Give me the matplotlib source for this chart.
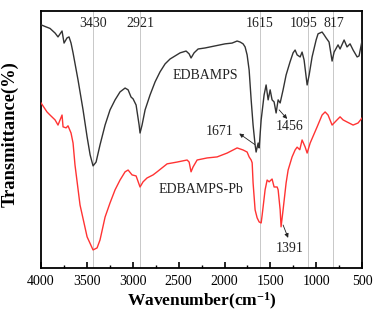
import matplotlib
matplotlib.use("Agg")
import matplotlib.pyplot as plt
from matplotlib.ticker import MultipleLocator

# ---- data ----
w_black = [4000, 3945, 3902, 3847, 3815, 3771, 3749, 3717, 3695, 3673, 3651, 3597, 3542, 3498,
           3465, 3433, 3400, 3357, 3302, 3248, 3193, 3139, 3084, 3051, 3019, 2997, 2964, 2931,
           2921, 2899, 2866, 2812, 2757, 2703, 2648, 2594, 2539, 2484, 2419, 2386, 2365, 2332,
           2288, 2212, 2103, 1994, 1918, 1863, 1830, 1798, 1776, 1754, 1732, 1710, 1689, 1667,
           1656, 1634, 1623, 1601, 1569, 1547, 1525, 1503, 1482, 1460, 1438, 1416, 1394, 1362,
           1329, 1286, 1253, 1231, 1209, 1176, 1155, 1133, 1100, 1078, 1046, 1002, 981, 937,
           915, 893, 861, 828, 806, 763, 741, 697, 665, 632, 599, 555, 534, 500]
t_black = [94.6, 93.8, 93.2, 91.4, 89.9, 92.2, 87.5, 89.5, 89.9, 87.5, 83.7, 73.2, 61.5, 51.0,
           44.0, 39.7, 41.2, 47.9, 55.6, 61.5, 65.4, 68.5, 70.0, 69.3, 66.5, 65.8, 63.4, 55.6,
           52.5, 55.6, 61.5, 67.3, 72.4, 76.3, 79.4, 81.3, 82.5, 83.7, 84.4, 83.3, 81.7, 83.7,
           85.2, 85.6, 86.4, 87.2, 87.5, 88.3, 87.9, 87.2, 86.0, 82.9, 77.0, 65.4, 55.6, 47.9,
           45.1, 48.6, 46.7, 57.6, 67.3, 71.2, 65.4, 69.3, 65.4, 64.6, 60.3, 65.4, 64.2, 69.3,
           75.1, 80.2, 83.7, 84.8, 82.9, 82.1, 84.0, 80.9, 71.2, 75.1, 82.1, 88.7, 91.1, 91.8,
           90.7, 89.5, 87.9, 80.5, 84.0, 86.8, 85.2, 88.7, 86.0, 87.2, 84.8, 82.1, 82.5, 88.7]

w_red = [4000, 3935, 3902, 3847, 3815, 3771, 3760, 3727, 3706, 3673, 3651, 3630, 3575, 3498,
         3433, 3389, 3357, 3302, 3248, 3193, 3139, 3084, 3051, 3008, 2964, 2921, 2888, 2845,
         2779, 2735, 2626, 2517, 2408, 2386, 2365, 2343, 2299, 2190, 2081, 1972, 1863, 1798,
         1754, 1732, 1710, 1699, 1689, 1667, 1645, 1623, 1601, 1590, 1558, 1536, 1514, 1482,
         1460, 1427, 1416, 1394, 1384, 1362, 1329, 1307, 1264, 1231, 1209, 1180, 1155, 1122,
         1100, 1067, 991, 937, 904, 872, 828, 774, 741, 708, 665, 599, 545, 500]
t_red = [64.2, 60.7, 59.5, 57.6, 55.6, 59.5, 54.9, 54.5, 55.3, 52.5, 48.6, 40.1, 24.5, 12.1,
         7.0, 7.8, 10.9, 19.8, 25.3, 30.4, 34.2, 37.4, 38.1, 36.2, 35.8, 31.5, 33.5, 35.0,
         36.2, 37.4, 40.5, 41.2, 42.0, 41.2, 37.4, 39.3, 42.0, 42.8, 43.2, 44.7, 46.7, 45.9,
         45.1, 43.2, 42.0, 40.9, 33.1, 22.6, 19.5, 17.9, 17.5, 20.6, 30.4, 34.2, 33.5, 34.6,
         31.5, 31.5, 30.4, 22.6, 16.0, 22.6, 33.1, 38.1, 43.2, 45.9, 47.0, 46.0, 49.8, 47.1,
         44.7, 48.6, 54.9, 59.5, 60.7, 59.5, 55.6, 57.6, 58.8, 57.6, 56.8, 55.6, 56.4, 58.4]

peak_lines = [3430, 2921, 1615, 1095, 817]
peak_labels = ["3430", "2921", "1615", "1095", "817"]
xticks = [4000, 3500, 3000, 2500, 2000, 1500, 1000, 500]

serif = ["Liberation Serif", "DejaVu Serif"]
plt.rcParams['font.family'] = serif
plt.rcParams['mathtext.fontset'] = 'custom'
plt.rcParams['mathtext.rm'] = 'Liberation Serif'
plt.rcParams['mathtext.bf'] = 'Liberation Serif:bold'
plt.rcParams['mathtext.it'] = 'Liberation Serif:italic'

fig = plt.figure(figsize=(3.73, 3.13), dpi=100)
ax = fig.add_axes([0.110, 0.144, 0.861, 0.821])

for x in peak_lines:
    ax.axvline(x, color="#c8c8c8", lw=0.7, zorder=1)

ax.plot(w_black, t_black, color="#333333", lw=1.0, zorder=3)
ax.plot(w_red, t_red, color="#ff3333", lw=1.0, zorder=3)

ax.set_xlim(4000, 500)
ax.set_ylim(0, 100)

label_x = [3430, 2921, 1623, 1133, 806]
for lx, lab in zip(label_x, peak_labels):
    ax.text(lx, 95.1, lab, ha="center", va="center", fontsize=10, color="#222222")

ax.text(2212, 74.7, "EDBAMPS", ha="center", va="center", fontsize=10, color="#222222")
ax.text(2256, 30.4, "EDBAMPS-Pb", ha="center", va="center", fontsize=10, color="#222222")

ax.text(2059, 52.9, "1671", ha="center", va="center", fontsize=10, color="#222222")
ax.text(1296, 54.9, "1456", ha="center", va="center", fontsize=10, color="#222222")
ax.text(1285, 7.4, "1391", ha="center", va="center", fontsize=10, color="#222222")

arrow = dict(arrowstyle="-|>", color="#222222", lw=0.6, mutation_scale=6, shrinkA=0, shrinkB=0)
ax.annotate("", xy=(1840, 52.3), xytext=(1670, 48.0), arrowprops=arrow)
ax.annotate("", xy=(1318, 58.0), xytext=(1405, 61.5), arrowprops=arrow)
ax.annotate("", xy=(1307, 11.7), xytext=(1362, 16.7), arrowprops=arrow)

ax.set_xticks(xticks)
ax.set_xticklabels([str(t) for t in xticks], fontsize=10)
ax.xaxis.set_minor_locator(MultipleLocator(250))
ax.set_yticks([])
ax.tick_params(axis="x", which="major", direction="in", length=4, width=1.2, pad=5)
ax.tick_params(axis="x", which="minor", direction="in", length=2, width=1.0)
for s in ax.spines.values():
    s.set_linewidth(1.3)

ax.set_xlabel("Wavenumber(cm$^{\\mathbf{-1}}$)", fontsize=12.5, fontweight="bold", labelpad=2)
ax.set_ylabel("Transmittance(%)", fontsize=13.3, fontweight="bold")
ax.yaxis.set_label_coords(-0.07, 0.519)

fig.savefig("out.png", dpi=100)
